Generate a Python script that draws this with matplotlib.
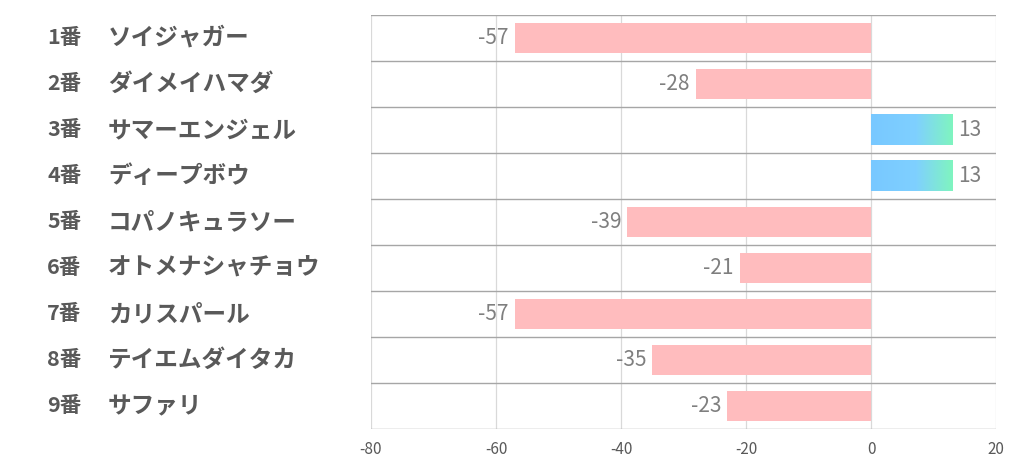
import numpy as np
import matplotlib
matplotlib.use("Agg")
import matplotlib.pyplot as plt
from matplotlib.colors import LinearSegmentedColormap
from matplotlib.transforms import blended_transform_factory, offset_copy

numbers = ["1番", "2番", "3番", "4番", "5番", "6番", "7番", "8番", "9番"]
names = ["ソイジャガー", "ダイメイハマダ", "サマーエンジェル", "ディープボウ",
         "コパノキュラソー", "オトメナシャチョウ", "カリスパール", "テイエムダイタカ", "サファリ"]
values = [-57, -28, 13, 13, -39, -21, -57, -35, -23]
xticks = [-80, -60, -40, -20, 0, 20]

plt.rcParams['font.family'] = ['Noto Sans CJK JP', 'DejaVu Sans']

fig = plt.figure(figsize=(10.22, 4.70), dpi=100)
ax = fig.add_axes([371 / 1022, 1 - 429 / 470, 625 / 1022, 414 / 470])

n = len(values)
ypos = np.arange(n)
bar_h = 0.67
pink = "#ffbcbe"
grad = LinearSegmentedColormap.from_list(
    "g", [(0, "#78c8ff"), (0.55, "#7fd0ff"), (1.0, "#7ff5bf")])

for y, v in zip(ypos, values):
    if v < 0:
        ax.barh(y, v, height=bar_h, color=pink, zorder=2)
        t = offset_copy(ax.transData, fig=fig, x=-6, y=0, units='dots')
        ax.text(v, y, str(v), transform=t, ha='right', va='center',
                fontsize=15, color="#7f7f7f", zorder=3)
    else:
        g = np.linspace(0, 1, 256).reshape(1, -1)
        ax.imshow(g, cmap=grad, aspect='auto', zorder=2,
                  extent=[0, v, y + bar_h / 2, y - bar_h / 2])
        t = offset_copy(ax.transData, fig=fig, x=6, y=0, units='dots')
        ax.text(v, y, str(v), transform=t, ha='left', va='center',
                fontsize=15, color="#7f7f7f", zorder=3)

ax.set_xlim(-80, 20)
ax.set_ylim(n - 0.5, -0.5)
ax.set_aspect('auto')

for x in xticks:
    ax.axvline(x, color="#d9d9d9", lw=0.9, zorder=1)
for k in range(n + 1):
    ax.axhline(k - 0.5, color="#a6a6a6", lw=1.0, zorder=1)

for s in ax.spines.values():
    s.set_visible(False)
ax.set_yticks([])
ax.set_xticks(xticks)
ax.set_xticklabels([str(x) for x in xticks], fontsize=11, color="#595959")
ax.tick_params(axis='x', length=0, pad=9)

tr = blended_transform_factory(fig.transFigure, ax.transData)
for y, num, name in zip(ypos, numbers, names):
    ax.text(47 / 1022, y, num, transform=tr, ha='left', va='center',
            fontsize=15.5, fontweight='bold', color="#595959")
    ax.text(108 / 1022, y, name, transform=tr, ha='left', va='center',
            fontsize=17, fontweight='bold', color="#595959")

fig.savefig("out.png", dpi=100)
